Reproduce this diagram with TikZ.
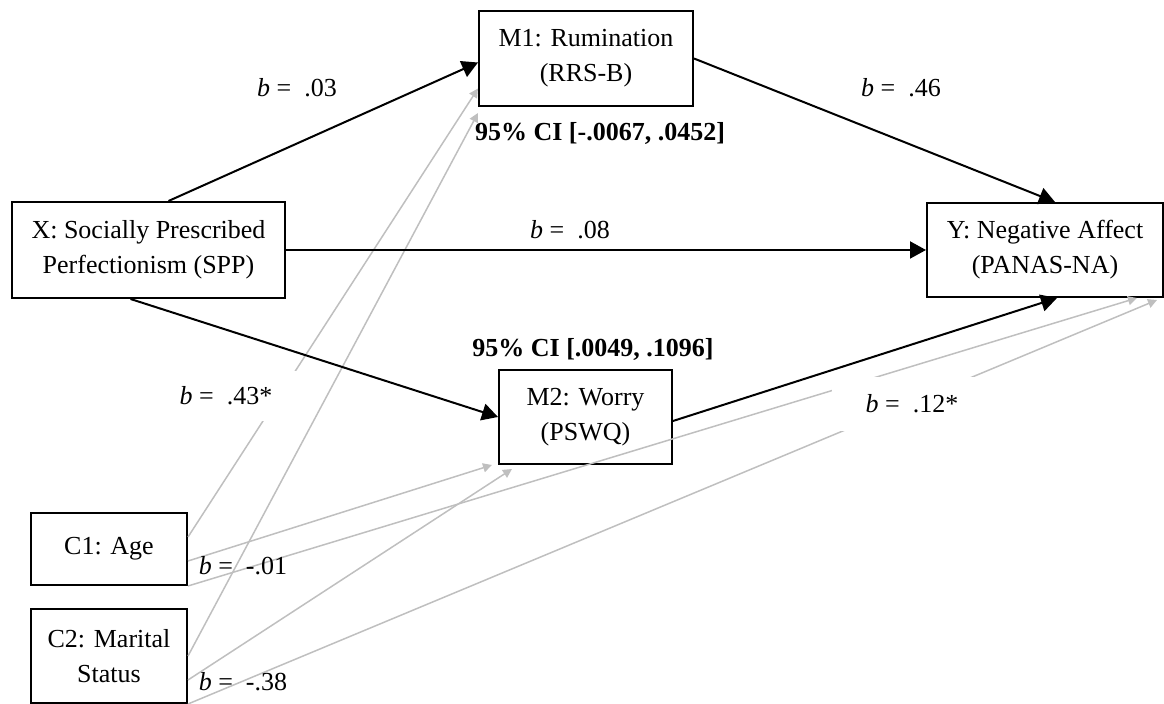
\documentclass[tikz,border=0pt]{standalone}
\usepackage{fontspec}
\setmainfont{Liberation Serif}
\usetikzlibrary{arrows.meta,positioning}

\begin{document}
\begin{tikzpicture}[
  x=0.5pt, y=-0.5pt,
  every node/.style={align=center, font=\fontsize{13}{17.5}\selectfont},
  var/.style={rectangle, draw=black, line width=1pt, fill=white, inner sep=0pt},
  coefw/.style={fill=white, inner xsep=15pt, inner ysep=8pt},
  ci/.style={font=\fontsize{13}{17.5}\selectfont\bfseries},
  arrow/.style={-{Triangle[length=8pt, width=8.5pt]}, line width=1pt},
  covar/.style={-{Triangle[length=4.5pt, width=4.5pt]}, line width=0.75pt, draw=black!25}
]
\useasboundingbox (0,0) rectangle (1164,704);

% --- VARIABLES ---
\node[var, minimum width=136.5pt, minimum height=48pt] (X) at (148.5,250) {X: Socially Prescribed\\Perfectionism (SPP)};
\node[var, minimum width=107pt, minimum height=47.5pt] (M1) at (586,58.5) {M1: Rumination\\(RRS-B)};
\node[var, minimum width=86.5pt, minimum height=47pt] (M2) at (585.5,417) {M2: Worry\\(PSWQ)};
\node[var, minimum width=118pt, minimum height=47pt] (Y) at (1045,250) {Y: Negative Affect\\(PANAS-NA)};
\node[var, minimum width=78pt, minimum height=36pt] (C1) at (109,549) {C1: Age};
\node[var, minimum width=78pt, minimum height=47pt] (C2) at (109,656) {C2: Marital\\Status};

% --- COVARIATE PATHS ---
\draw[covar] ([yshift=6pt]C1.east) -- ([yshift=-15pt]M1.west);
\draw[covar] (C2.east) -- ([yshift=-3pt]M1.south west);
\draw[covar] ([yshift=-6pt]C1.east) -- ([xshift=-3pt]M2.south west);
\draw[covar] ([yshift=-12pt]C2.east) -- ([xshift=7pt,yshift=-2pt]M2.south west);
\draw[covar] (C1.south east) -- ([xshift=-13.5pt]Y.south east);
\draw[covar] (C2.south east) -- ([xshift=-3.5pt,yshift=-1pt]Y.south east);

% --- COEFFICIENTS ---
\node (b03) at (297,88) {\textit{b} =\ \ .03};
\node (b46) at (901,88) {\textit{b} =\ \ .46};
\node (b08) at (570,230) {\textit{b} =\ \ .08};
\node[coefw] (b43) at (226,396) {\textit{b} =\ \ .43*};
\node[coefw, inner xsep=17pt, inner ysep=9pt] (b12) at (912,404) {\textit{b} =\ \ .12*};
\node (b01) at (243,566) {\textit{b} =\ \ -.01};
\node (b38) at (243,682) {\textit{b} =\ \ -.38};

% CIs of the indirect effects
\node[ci] (ci1) at (600,134) {95\% CI [-.0067, .0452]};
\node[ci] (ci2) at (593,350) {95\% CI [.0049, .1096]};

% --- MAIN PATHS ---
\draw[arrow] ([xshift=10pt]X.north) -- ([yshift=-2pt]M1.west);
\draw[arrow] ([xshift=-9pt]X.south) -- (M2.west);
\draw[arrow] (X) -- (Y);
\draw[arrow] (M1.east) -- ([xshift=5pt]Y.north);
\draw[arrow] ([yshift=-2pt]M2.east) -- ([xshift=6pt]Y.south);

\end{tikzpicture}
\end{document}
